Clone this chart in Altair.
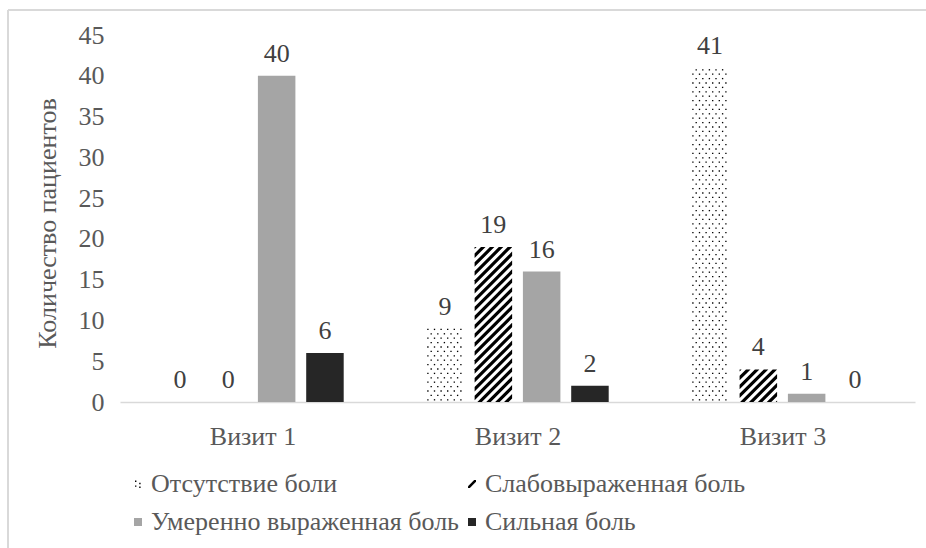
import altair as alt
import pandas as pd

# ---------------- data ----------------
visits = ["Визит 1", "Визит 2", "Визит 3"]
series = ["Отсутствие боли", "Слабовыраженная боль", "Умеренно выраженная боль", "Сильная боль"]
no_pain = [0, 9, 41]
mild_pain = [0, 19, 4]
moderate_pain = [40, 16, 1]
severe_pain = [6, 2, 0]
y_ticks = [0, 5, 10, 15, 20, 25, 30, 35, 40, 45]

# ---------------- layout / style ----------------
FONT = "Liberation Serif, Times New Roman, serif"
FS = 26
W, H = 795, 367
Y_MAX = 45
PX_X = W / 3.0          # pixels per x unit (domain 0.5 .. 3.5)
PX_Y = H / Y_MAX        # pixels per y unit
BAR_STEP_PX = 48.3
BAR_W_PX = 37.5
GRAY = "#a5a5a5"
DARK = "#262626"

values_by_series = [no_pain, mild_pain, moderate_pain, severe_pain]
rows = []
for si, s in enumerate(series):
    for gi, v in enumerate(visits):
        xc = (gi + 1) + (si - 1.5) * BAR_STEP_PX / PX_X
        rows.append(dict(visit=v, series=s, value=values_by_series[si][gi], zero=0,
                         xc=xc, x0=xc - BAR_W_PX / 2 / PX_X, x1=xc + BAR_W_PX / 2 / PX_X))
bars = pd.DataFrame(rows)

# dotted pattern (Отсутствие боли)
dots = []
for r in bars[bars.series == series[0]].itertuples():
    h = r.value * PX_Y
    k = 0
    y = 2.2
    while y < h - 0.5:
        x = 1.6 + (k % 2) * 3.3
        while x < BAR_W_PX - 0.5:
            dots.append(dict(X=r.x0 + x / PX_X, Y=y / PX_Y))
            x += 6.6
        y += 4.4
        k += 1
dots = pd.DataFrame(dots)

# hatch pattern (Слабовыраженная боль)
P, T = 8.9, 4.5
hatch = []
sid = 0
for r in bars[bars.series == series[1]].itertuples():
    h = r.value * PX_Y
    w = BAR_W_PX
    if h <= 0:
        continue
    c = h - 2.0
    while c > -w - T:
        xs = sorted({xx for xx in [0.0, w, -c, h - c, -c - T, h - c - T] if 0.0 <= xx <= w})
        pts = []
        for xx in xs:
            lo = min(max(xx + c, 0.0), h)
            hi = min(max(xx + c + T, 0.0), h)
            pts.append((xx, lo, hi))
        if any(p[2] - p[1] > 1e-6 for p in pts):
            for xx, lo, hi in pts:
                hatch.append(dict(sid=sid, X=r.x0 + xx / PX_X, lo=lo / PX_Y, hi=hi / PX_Y))
            sid += 1
        c -= P
hatch = pd.DataFrame(hatch)

# ---------------- scales / axes ----------------
xscale = alt.Scale(domain=[0.5, 3.5], nice=False, zero=False)
yscale = alt.Scale(domain=[0, Y_MAX], nice=False)

x_axis = alt.Axis(values=[1, 2, 3], labelExpr="'Визит ' + datum.value", title=None,
                  ticks=False, grid=False, domainColor="#d9d9d9", domainWidth=1.5,
                  labelFont=FONT, labelFontSize=FS, labelColor="#595959", labelPadding=21)
y_axis = alt.Axis(values=y_ticks, domain=False, ticks=False, grid=False,
                  labelFont=FONT, labelFontSize=FS, labelColor="#595959", labelPadding=16,
                  title="Количество пациентов", titleFont=FONT, titleFontSize=FS,
                  titleFontWeight="normal", titleColor="#595959",
                  titleX=-73, titleY=188, titleBaseline="middle", titleAlign="center")


def X(field):
    return alt.X(field, scale=xscale, axis=x_axis)


def Y(field, **kw):
    return alt.Y(field, scale=yscale, axis=y_axis, **kw)


base = alt.Chart(bars)

rect_gray = base.mark_rect(color=GRAY).encode(
    x=X("x0:Q"), x2="x1:Q", y=Y("value:Q"), y2="zero:Q",
).transform_filter(alt.datum.series == series[2])

rect_dark = base.mark_rect(color=DARK).encode(
    x=X("x0:Q"), x2="x1:Q", y=Y("value:Q"), y2="zero:Q",
).transform_filter(alt.datum.series == series[3])

dot_layer = alt.Chart(dots).mark_square(size=1.8, color="black", opacity=1).encode(
    x=X("X:Q"), y=Y("Y:Q"),
)

hatch_layer = alt.Chart(hatch).mark_area(color="black", orient="vertical", interpolate="linear").encode(
    x=X("X:Q"), y=Y("lo:Q", stack=None), y2="hi:Q", detail="sid:N",
)

labels = base.mark_text(font=FONT, fontSize=FS, color="#404040", baseline="alphabetic", dy=-14).encode(
    x=X("xc:Q"), y=Y("value:Q"), text="value:Q",
)

dot_path = ("M-0.75,-0.85h0.35v0.35h-0.35z M-0.75,0.35h0.35v0.35h-0.35z "
            "M0.3,-0.3h0.35v0.35h-0.35z M0.3,0.65h0.35v0.35h-0.35z")
hatch_path = "M-1,0.55 L0.55,-1 L1,-1 L1,-0.55 L-0.55,1 L-1,1 Z"

leg = alt.Legend(title=None, orient="none", legendX=5, legendY=436, columns=2,
                 direction="horizontal", symbolSize=64, symbolOpacity=1, symbolStrokeWidth=0,
                 labelFont=FONT, labelFontSize=FS, labelColor="#595959", labelOffset=0,
                 rowPadding=12, columnPadding=0, padding=0, labelLimit=0)

legend_layer = base.mark_point(filled=True, opacity=0).encode(
    x=X("xc:Q"), y=Y("zero:Q"),
    fill=alt.Fill("series:N", scale=alt.Scale(domain=series, range=["black", "black", GRAY, DARK]), legend=leg),
    shape=alt.Shape("series:N", scale=alt.Scale(domain=series, range=[dot_path, hatch_path, "square", "square"]), legend=leg),
)

frame_df = pd.DataFrame({"k": [0]})
frame_top = alt.Chart(frame_df).mark_rule(color="#d9d9d9", strokeWidth=2).encode(
    x=alt.value(-112), x2=alt.value(W + 40), y=alt.value(-25))
frame_left = alt.Chart(frame_df).mark_rule(color="#d9d9d9", strokeWidth=2).encode(
    x=alt.value(-112), y=alt.value(-25), y2=alt.value(H + 200))

chart = alt.layer(
    rect_gray, rect_dark, dot_layer, hatch_layer, labels, legend_layer, frame_top, frame_left
).properties(
    width=W, height=H,
    autosize=alt.AutoSizeParams(type="none"),
    padding={"left": 120, "top": 35, "right": 11, "bottom": 146},
    background="white",
).configure_view(stroke="transparent")

chart.save("out.html", embed_options={"renderer": "svg", "actions": False})
